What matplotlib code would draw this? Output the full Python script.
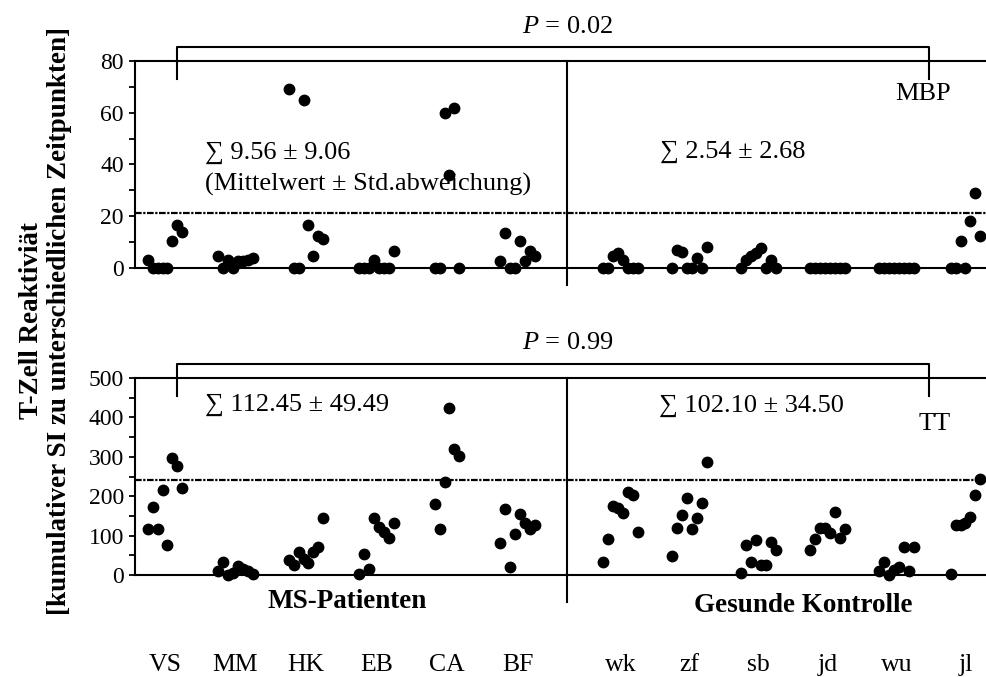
import numpy as np
import matplotlib
matplotlib.use('Agg')
import matplotlib.pyplot as plt

plt.rcParams['font.family'] = 'Liberation Serif'
plt.rcParams['mathtext.fontset'] = 'custom'
plt.rcParams['mathtext.rm'] = 'Liberation Serif'
plt.rcParams['mathtext.it'] = 'Liberation Serif:italic'

# Daten
patienten = ['VS', 'MM', 'HK', 'EB', 'CA', 'BF']
kontrollen = ['wk', 'zf', 'sb', 'jd', 'wu', 'jl']

mbp_patienten = [
    [3, 0, 0, 0, 0, 10.3, 16.7, 14.1],
    [4.7, 0, 3.2, 0, 2.6, 2.6, 3.0, 3.9],
    [69, 0, 0, 65, 16.7, 4.7, 12.2, 11.2],
    [0, 0, 0, 3, 0, 0, 0, 6.4],
    [0, 0, 60, 36, 62, 0],
    [2.8, 13.5, 0, 0, 10.3, 2.6, 6.4, 4.7],
]
mbp_kontrollen = [
    [0, 0, 4.5, 5.8, 3.2, 0, 0, 0],
    [0, 7, 6, 0, 0, 3.9, 0, 8],
    [0, 3.2, 4.7, 5.8, 7.7, 0, 3.2, 0],
    [0, 0, 0, 0, 0, 0, 0, 0],
    [0, 0, 0, 0, 0, 0, 0, 0],
    [0, 0, 10.5, 0, 18, 29, 12.2],
]
tt_patienten = [
    [117, 172, 117, 216, 76, 298, 277, 222],
    [10, 32, 0, 6, 22, 14, 10, 3],
    [38, 25, 58, 41, 30, 59, 72, 144],
    [3, 53, 15, 144, 123, 110, 93, 133],
    [180, 117, 237, 425, 320, 302],
    [82, 167, 20, 104, 155, 133, 116, 127],
]
tt_kontrollen = [
    [34, 92, 176, 170, 157, 210, 203, 110],
    [48, 119, 153, 195, 116, 144, 182, 286],
    [4, 76, 34, 89, 25, 25, 83, 64],
    [64, 91, 119, 119, 106, 161, 93, 116],
    [11, 34, 0, 13, 21, 72, 11, 72],
    [3, 127, 127, 133, 148, 203, 243],
]

mbp_grenze = 21.2
tt_grenze = 241
mbp_text = ['\u2211 9.56 \u00b1 9.06', '\u2211 2.54 \u00b1 2.68']
tt_text = ['\u2211 112.45 \u00b1 49.49', '\u2211 102.10 \u00b1 34.50']

# Layout (Pixel)
W, H = 987, 677
fig = plt.figure(figsize=(W / 100, H / 100), dpi=100)


def achse(left, top, right, bottom):
    return fig.add_axes([left / W, 1 - bottom / H, (right - left) / W, (bottom - top) / H])


ax1 = achse(135, 61, 987, 268)
ax2 = achse(135, 378, 987, 575)

mitte_p = [165 + 70.5 * i for i in range(6)]
mitte_k = [620.5 + 69 * i for i in range(6)]
schritt = 4.95


def punkte(ax, gruppen, mitten):
    for werte, m in zip(gruppen, mitten):
        n = len(werte)
        xs = m + (np.arange(n) - (n - 1) / 2) * schritt
        ax.plot(xs, werte, 'o', color='black', ms=7.5, clip_on=False, zorder=5)


def panel(ax, ymax, major, minor, grenze, tief):
    hoehe = ax.get_position().height * H
    ax.set_xlim(135, 987)
    ax.set_ylim(0, ymax)
    ax.set_xticks([])
    ax.set_yticks(major)
    ax.set_yticks(minor, minor=True)
    ax.tick_params(axis='y', which='both', direction='out', length=4, width=1.3,
                   pad=4, labelsize=17)
    ax.spines['right'].set_visible(False)
    for s in ['left', 'top', 'bottom']:
        ax.spines[s].set_linewidth(1.5)
    ax.axhline(grenze, color='black', lw=1.6, ls=(0, (3, 0.7, 1, 0.7)), zorder=2)
    ax.axvline(567, ymin=-tief / hoehe, ymax=1, color='black', lw=1.5, clip_on=False)
    tr = ax.get_xaxis_transform()
    oben = 1 + 14 / hoehe
    unten = 1 - 18 / hoehe
    ax.plot([177, 177, 929, 929], [unten, oben, oben, unten], color='black', lw=1.5,
            transform=tr, clip_on=False)
    return tr, hoehe


tr1, h1 = panel(ax1, 80, [0, 20, 40, 60, 80], [10, 30, 50, 70], mbp_grenze, 17)
tr2, h2 = panel(ax2, 500, [0, 100, 200, 300, 400, 500], [50, 150, 250, 350, 450],
                tt_grenze, 27)

punkte(ax1, mbp_patienten, mitte_p)
punkte(ax1, mbp_kontrollen, mitte_k)
punkte(ax2, tt_patienten, mitte_p)
punkte(ax2, tt_kontrollen, mitte_k)

gr = 19

# Texte oben
ax1.text(568, (268 - 27) / h1, r'$P$ = 0.02', transform=tr1, ha='center', va='center', fontsize=gr)
ax1.text(205, (268 - 153) / h1, mbp_text[0], transform=tr1, ha='left', va='center', fontsize=gr)
ax1.text(205, (268 - 184) / h1, '(Mittelwert \u00b1 Std.abweichung)', transform=tr1,
         ha='left', va='center', fontsize=gr)
ax1.text(660, (268 - 152) / h1, mbp_text[1], transform=tr1, ha='left', va='center', fontsize=gr)
ax1.text(923, (268 - 94) / h1, 'MBP', transform=tr1, ha='center', va='center', fontsize=gr)

# Texte unten
ax2.text(568, (575 - 343) / h2, r'$P$ = 0.99', transform=tr2, ha='center', va='center', fontsize=gr)
ax2.text(205, (575 - 405) / h2, tt_text[0], transform=tr2, ha='left', va='center', fontsize=gr)
ax2.text(659, (575 - 406) / h2, tt_text[1], transform=tr2, ha='left', va='center', fontsize=gr)
ax2.text(935, (575 - 424) / h2, 'TT', transform=tr2, ha='center', va='center', fontsize=gr)
ax2.text(347, (575 - 602) / h2, 'MS-Patienten', transform=tr2, ha='center', va='center',
         fontsize=19.5, fontweight='bold')
ax2.text(803, (575 - 605) / h2, 'Gesunde Kontrolle', transform=tr2, ha='center', va='center',
         fontsize=19.5, fontweight='bold')

for name, m in zip(patienten + kontrollen, mitte_p + mitte_k):
    ax2.text(m, (575 - 665) / h2, name, transform=tr2, ha='center', va='center', fontsize=18.5)

# y-Achsenbeschriftung
fig.text(32 / W, 1 - 321 / H, 'T-Zell Reaktivi\u00e4t', rotation=90, ha='center', va='center',
         fontsize=19.5, fontweight='bold')
fig.text(60 / W, 1 - 321 / H, '[kumulativer SI zu unterschiedlichen Zeitpunkten]', rotation=90,
         ha='center', va='center', fontsize=19.5, fontweight='bold')

fig.savefig('out.png', dpi=100)
